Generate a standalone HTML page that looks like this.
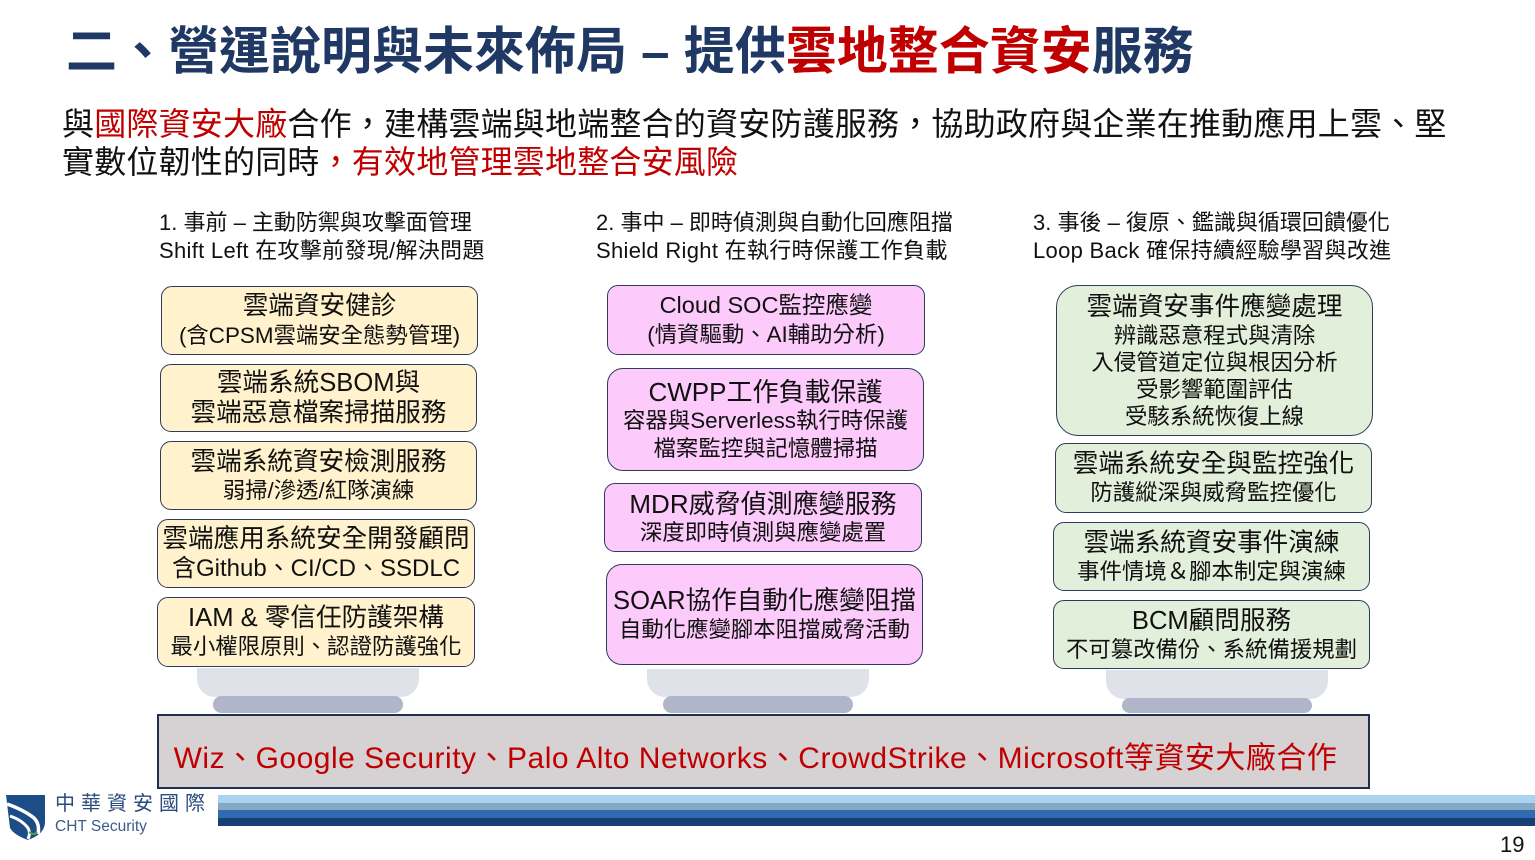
<!DOCTYPE html>
<html>
<head>
<meta charset="utf-8">
<style>
*{margin:0;padding:0;box-sizing:border-box;}
html,body{width:1535px;height:860px;background:#fff;overflow:hidden;}
body{position:relative;font-family:"Liberation Sans","Noto Sans CJK TC",sans-serif;color:#111;}
.abs{position:absolute;}
.title{left:66px;top:20px;font-size:51px;font-weight:bold;color:#1f3864;line-height:64px;white-space:nowrap;}
.red{color:#c00000;}
.sub{left:62px;font-size:32px;line-height:38px;white-space:nowrap;color:#111;letter-spacing:0.2px;}
.head{font-size:22px;line-height:28px;white-space:nowrap;color:#111;}
.box{position:absolute;border:1.6px solid #2e3b5b;display:flex;flex-direction:column;justify-content:center;align-items:center;text-align:center;white-space:nowrap;color:#111;}
.y{background:#fff2cc;border-radius:11px;}
.p{background:#fdcafc;border-radius:11px;}
.g{background:#e2efda;border-radius:11px;}
.m{font-size:25.6px;line-height:30px;}
.s{font-size:22.4px;line-height:28px;}
.ped{position:absolute;background:#e0e2ea;border-radius:0 0 18px 18px;}
.base{position:absolute;background:#b1b5c9;border-radius:9px;}
</style>
</head>
<body>

<div class="abs title">二、營運說明與未來佈局 – 提供<span class="red">雲地整合資安</span>服務</div>

<div class="abs sub" style="top:105px;">與<span class="red">國際資安大廠</span>合作，建構雲端與地端整合的資安防護服務，協助政府與企業在推動應用上雲、堅</div>
<div class="abs sub" style="top:143px;">實數位韌性的同時<span class="red">，有效地管理雲地整合安風險</span></div>

<div class="abs head" style="left:159px;top:209px;">1. 事前 – 主動防禦與攻擊面管理</div>
<div class="abs head" style="left:159px;top:237px;letter-spacing:0.3px;">Shift Left 在攻擊前發現/解決問題</div>
<div class="abs head" style="left:596px;top:209px;">2. 事中 – 即時偵測與自動化回應阻擋</div>
<div class="abs head" style="left:596px;top:237px;letter-spacing:0.3px;">Shield Right 在執行時保護工作負載</div>
<div class="abs head" style="left:1033px;top:209px;">3. 事後 – 復原、鑑識與循環回饋優化</div>
<div class="abs head" style="left:1033px;top:237px;letter-spacing:0.3px;">Loop Back 確保持續經驗學習與改進</div>

<!-- pedestals -->
<div class="ped" style="left:197px;top:668px;width:222px;height:29px;"></div>
<div class="base" style="left:213px;top:696px;width:190px;height:17px;"></div>
<div class="ped" style="left:647px;top:669px;width:222px;height:28px;"></div>
<div class="base" style="left:663px;top:696px;width:190px;height:17px;"></div>
<div class="ped" style="left:1106px;top:670px;width:222px;height:29px;"></div>
<div class="base" style="left:1122px;top:698px;width:190px;height:15px;"></div>

<!-- column 1 -->
<div class="box y" style="left:161px;top:286px;width:317px;height:69px;">
  <div class="m">雲端資安健診</div><div class="m" style="font-size:22.4px;">(含CPSM雲端安全態勢管理)</div>
</div>
<div class="box y" style="left:160px;top:364px;width:317px;height:68px;">
  <div class="m">雲端系統SBOM與</div><div class="m">雲端惡意檔案掃描服務</div>
</div>
<div class="box y" style="left:160px;top:441px;width:317px;height:69px;">
  <div class="m">雲端系統資安檢測服務</div><div class="s">弱掃/滲透/紅隊演練</div>
</div>
<div class="box y" style="left:157px;top:519px;width:318px;height:69px;">
  <div class="m">雲端應用系統安全開發顧問</div><div class="m" style="font-size:24px;">含Github、CI/CD、SSDLC</div>
</div>
<div class="box y" style="left:157px;top:597px;width:318px;height:70px;">
  <div class="m">IAM &amp; 零信任防護架構</div><div class="s">最小權限原則、認證防護強化</div>
</div>

<!-- column 2 -->
<div class="box p" style="left:607px;top:285px;width:318px;height:70px;">
  <div class="m" style="font-size:23.5px;">Cloud SOC監控應變</div><div class="m" style="font-size:22.4px;">(情資驅動、AI輔助分析)</div>
</div>
<div class="box p" style="left:607px;top:368px;width:317px;height:103px;border-radius:16px;">
  <div class="m" style="font-size:26px;">CWPP工作負載保護</div><div class="s">容器與Serverless執行時保護</div><div class="s">檔案監控與記憶體掃描</div>
</div>
<div class="box p" style="left:604px;top:483px;width:318px;height:69px;">
  <div class="m" style="font-size:26px;">MDR威脅偵測應變服務</div><div class="s">深度即時偵測與應變處置</div>
</div>
<div class="box p" style="left:606px;top:564px;width:317px;height:101px;border-radius:16px;">
  <div class="m" style="font-size:25.6px;">SOAR協作自動化應變阻擋</div><div class="s">自動化應變腳本阻擋威脅活動</div>
</div>

<!-- column 3 -->
<div class="box g" style="left:1056px;top:285px;width:317px;height:151px;border-radius:22px;">
  <div class="m">雲端資安事件應變處理</div><div class="s" style="line-height:27px;">辨識惡意程式與清除</div><div class="s" style="line-height:27px;">入侵管道定位與根因分析</div><div class="s" style="line-height:27px;">受影響範圍評估</div><div class="s" style="line-height:27px;">受駭系統恢復上線</div>
</div>
<div class="box g" style="left:1055px;top:443px;width:317px;height:70px;">
  <div class="m">雲端系統安全與監控強化</div><div class="s">防護縱深與威脅監控優化</div>
</div>
<div class="box g" style="left:1053px;top:522px;width:317px;height:69px;">
  <div class="m">雲端系統資安事件演練</div><div class="s">事件情境＆腳本制定與演練</div>
</div>
<div class="box g" style="left:1053px;top:600px;width:317px;height:69px;">
  <div class="m">BCM顧問服務</div><div class="s">不可篡改備份、系統備援規劃</div>
</div>

<!-- band -->
<div class="abs" style="left:157px;top:714px;width:1213px;height:75px;background:#d6d1d3;border:2px solid #1f3050;"></div>
<div class="abs red" style="left:149px;top:738px;width:1213px;text-align:center;font-size:30px;letter-spacing:0.5px;line-height:42px;white-space:nowrap;">Wiz、Google Security、Palo Alto Networks、CrowdStrike、Microsoft等資安大廠合作</div>

<!-- footer stripes -->
<div class="abs" style="left:218px;top:795px;width:1317px;height:8px;background:#a9d3ee;"></div>
<div class="abs" style="left:218px;top:803px;width:1317px;height:7px;background:#84a8c6;"></div>
<div class="abs" style="left:218px;top:810px;width:1317px;height:8px;background:#2e6bb0;"></div>
<div class="abs" style="left:218px;top:818px;width:1317px;height:8px;background:#173f73;"></div>

<!-- logo -->
<svg class="abs" style="left:4px;top:792px;" width="44" height="50" viewBox="0 0 44 50">
  <path d="M2 3 L41 3 L41 30 Q41 42 24 48 Q10 43 6 36 Z" fill="#1d4d86"/>
  <path d="M3 12 Q20 18 30 26 Q36 32 34 42" stroke="#fff" stroke-width="3.5" fill="none"/>
  <path d="M6 24 Q18 28 24 36 Q27 41 24 47" stroke="#fff" stroke-width="3" fill="none"/>
  <path d="M25 40 Q30 44 33 40" stroke="#4aa54a" stroke-width="2" fill="none"/>
</svg>
<div class="abs" style="left:55px;top:792px;font-size:20px;line-height:24px;letter-spacing:6px;color:#2b4c7e;white-space:nowrap;">中華資安國際</div>
<div class="abs" style="left:55px;top:817px;font-size:15.5px;line-height:20px;color:#3b5c8c;white-space:nowrap;">CHT Security</div>

<div class="abs" style="left:1500px;top:832px;font-size:22px;line-height:26px;color:#111;">19</div>

</body>
</html>
